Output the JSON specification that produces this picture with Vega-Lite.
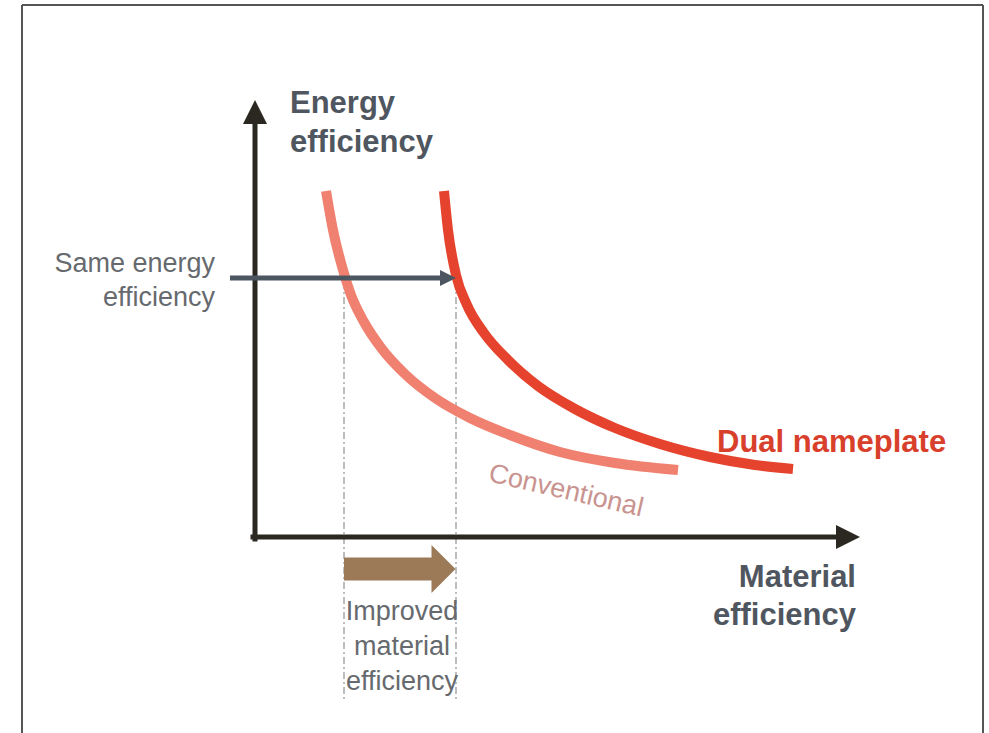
{
  "$schema": "https://vega.github.io/schema/vega-lite/v6.json",
  "width": 989,
  "height": 733,
  "padding": 0,
  "autosize": {"type": "none"},
  "background": "white",
  "config": {"view": {"stroke": null}},
  "encoding": {
    "x": {"field": "x", "type": "quantitative", "scale": {"domain": [0, 989], "nice": false, "zero": false}, "axis": null},
    "y": {"field": "y", "type": "quantitative", "scale": {"domain": [0, 733], "nice": false, "zero": false, "reverse": true}, "axis": null}
  },
  "datasets": {
    "frame": [
      {"x": 22, "y": 5, "x2": 983, "y2": 5},
      {"x": 22, "y": 5, "x2": 22, "y2": 733},
      {"x": 983, "y": 5, "x2": 983, "y2": 733}
    ],
    "guides": [
      {"x": 344, "y": 282, "x2": 344, "y2": 700},
      {"x": 456, "y": 282, "x2": 456, "y2": 700}
    ],
    "axes": [
      {"x": 255, "y": 539, "x2": 255, "y2": 118},
      {"x": 253, "y": 537, "x2": 842, "y2": 537}
    ],
    "axisHeadUp": [{"x": 255, "y": 112}],
    "axisHeadRight": [{"x": 848, "y": 537}],
    "sameArrow": [{"x": 230, "y": 278, "x2": 444, "y2": 278}],
    "sameHead": [{"x": 448, "y": 278}],
    "matArrow": [{"x": 344, "y": 569, "x2": 433, "y2": 569}],
    "matHead": [{"x": 443.5, "y": 569}],
    "curves": [
      {"series": "Conventional", "o": 1, "x": 326, "y": 191},
      {"series": "Conventional", "o": 2, "x": 333, "y": 230},
      {"series": "Conventional", "o": 3, "x": 343, "y": 270},
      {"series": "Conventional", "o": 4, "x": 351, "y": 295},
      {"series": "Conventional", "o": 5, "x": 364, "y": 322},
      {"series": "Conventional", "o": 6, "x": 382, "y": 349},
      {"series": "Conventional", "o": 7, "x": 406, "y": 375},
      {"series": "Conventional", "o": 8, "x": 435, "y": 398},
      {"series": "Conventional", "o": 9, "x": 470, "y": 418},
      {"series": "Conventional", "o": 10, "x": 510, "y": 435},
      {"series": "Conventional", "o": 11, "x": 560, "y": 452},
      {"series": "Conventional", "o": 12, "x": 615, "y": 463},
      {"series": "Conventional", "o": 13, "x": 678, "y": 470},
      {"series": "Dual nameplate", "o": 1, "x": 444, "y": 191},
      {"series": "Dual nameplate", "o": 2, "x": 448, "y": 230},
      {"series": "Dual nameplate", "o": 3, "x": 456, "y": 275},
      {"series": "Dual nameplate", "o": 4, "x": 467, "y": 305},
      {"series": "Dual nameplate", "o": 5, "x": 484, "y": 333},
      {"series": "Dual nameplate", "o": 6, "x": 508, "y": 360},
      {"series": "Dual nameplate", "o": 7, "x": 538, "y": 386},
      {"series": "Dual nameplate", "o": 8, "x": 575, "y": 409},
      {"series": "Dual nameplate", "o": 9, "x": 615, "y": 428},
      {"series": "Dual nameplate", "o": 10, "x": 660, "y": 444},
      {"series": "Dual nameplate", "o": 11, "x": 710, "y": 457},
      {"series": "Dual nameplate", "o": 12, "x": 755, "y": 465},
      {"series": "Dual nameplate", "o": 13, "x": 793, "y": 469}
    ],
    "titlesLeft": [
      {"t": "Energy", "x": 290, "y": 113},
      {"t": "efficiency", "x": 290, "y": 152}
    ],
    "titlesRight": [
      {"t": "Material", "x": 856, "y": 587},
      {"t": "efficiency", "x": 856, "y": 625}
    ],
    "sameText": [
      {"t": "Same energy", "x": 215, "y": 272},
      {"t": "efficiency", "x": 215, "y": 306}
    ],
    "improvedText": [
      {"t": "Improved", "x": 402, "y": 620},
      {"t": "material", "x": 402, "y": 655},
      {"t": "efficiency", "x": 402, "y": 690}
    ],
    "dualText": [{"t": "Dual nameplate", "x": 717, "y": 452}],
    "convText": [{"t": "Conventional", "x": 566, "y": 491}]
  },
  "layer": [
    {
      "data": {"name": "frame"},
      "mark": {"type": "rule", "color": "#555555", "strokeWidth": 2},
      "encoding": {"x2": {"field": "x2"}, "y2": {"field": "y2"}}
    },
    {
      "data": {"name": "guides"},
      "mark": {"type": "rule", "color": "#9a9a9a", "strokeWidth": 1.3, "strokeDash": [7, 3, 2, 3]},
      "encoding": {"x2": {"field": "x2"}, "y2": {"field": "y2"}}
    },
    {
      "data": {"name": "curves"},
      "mark": {"type": "line", "strokeWidth": 10, "interpolate": "monotone", "strokeCap": "butt"},
      "encoding": {
        "order": {"field": "o"},
        "color": {"field": "series", "type": "nominal", "legend": null,
          "scale": {"domain": ["Conventional", "Dual nameplate"], "range": ["#F08070", "#E5432D"]}}
      }
    },
    {
      "data": {"name": "axes"},
      "mark": {"type": "rule", "color": "#2b2822", "strokeWidth": 5, "strokeCap": "square"},
      "encoding": {"x2": {"field": "x2"}, "y2": {"field": "y2"}}
    },
    {
      "data": {"name": "axisHeadUp"},
      "mark": {"type": "point", "shape": "M0,-1L1,1L-1,1Z", "size": 576, "filled": true, "color": "#2b2822", "opacity": 1},
      "encoding": {}
    },
    {
      "data": {"name": "axisHeadRight"},
      "mark": {"type": "point", "shape": "M-1,-1L1,0L-1,1Z", "size": 576, "filled": true, "color": "#2b2822", "opacity": 1},
      "encoding": {}
    },
    {
      "data": {"name": "sameArrow"},
      "mark": {"type": "rule", "color": "#4b5661", "strokeWidth": 5},
      "encoding": {"x2": {"field": "x2"}, "y2": {"field": "y2"}}
    },
    {
      "data": {"name": "sameHead"},
      "mark": {"type": "point", "shape": "M-1,-1L1,0L-1,1Z", "size": 256, "filled": true, "color": "#4b5661", "opacity": 1},
      "encoding": {}
    },
    {
      "data": {"name": "matArrow"},
      "mark": {"type": "rule", "color": "#9C7A58", "strokeWidth": 23, "strokeCap": "butt"},
      "encoding": {"x2": {"field": "x2"}, "y2": {"field": "y2"}}
    },
    {
      "data": {"name": "matHead"},
      "mark": {"type": "point", "shape": "M-0.5,-1L0.5,0L-0.5,1Z", "size": 2304, "filled": true, "color": "#9C7A58", "opacity": 1},
      "encoding": {}
    },
    {
      "data": {"name": "titlesLeft"},
      "mark": {"type": "text", "align": "left", "baseline": "alphabetic", "font": "Liberation Sans", "fontWeight": "bold", "fontSize": 31, "color": "#4f5660"},
      "encoding": {"text": {"field": "t"}}
    },
    {
      "data": {"name": "titlesRight"},
      "mark": {"type": "text", "align": "right", "baseline": "alphabetic", "font": "Liberation Sans", "fontWeight": "bold", "fontSize": 31, "color": "#4f5660"},
      "encoding": {"text": {"field": "t"}}
    },
    {
      "data": {"name": "sameText"},
      "mark": {"type": "text", "align": "right", "baseline": "alphabetic", "font": "Liberation Sans", "fontSize": 27, "color": "#666a6e"},
      "encoding": {"text": {"field": "t"}}
    },
    {
      "data": {"name": "improvedText"},
      "mark": {"type": "text", "align": "center", "baseline": "alphabetic", "font": "Liberation Sans", "fontSize": 27, "color": "#666a6e"},
      "encoding": {"text": {"field": "t"}}
    },
    {
      "data": {"name": "dualText"},
      "mark": {"type": "text", "align": "left", "baseline": "alphabetic", "font": "Liberation Sans", "fontWeight": "bold", "fontSize": 31, "color": "#D8402B"},
      "encoding": {"text": {"field": "t"}}
    },
    {
      "data": {"name": "convText"},
      "mark": {"type": "text", "align": "center", "baseline": "middle", "font": "Liberation Sans", "fontSize": 27, "angle": 13, "color": "#C9938F"},
      "encoding": {"text": {"field": "t"}}
    }
  ]
}
